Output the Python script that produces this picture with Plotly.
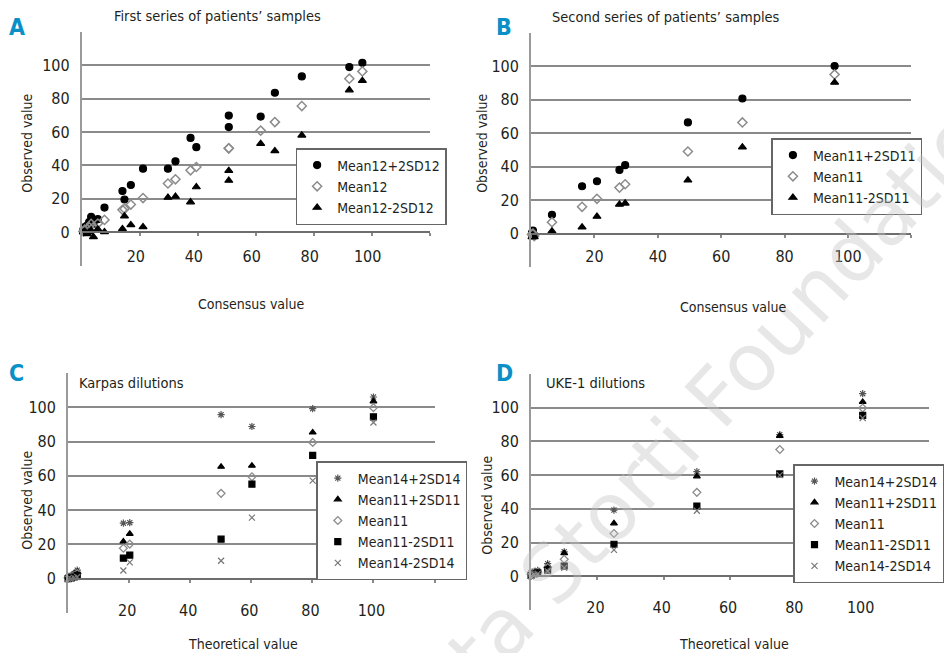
import plotly.graph_objects as go

# ---------------- data ----------------
# Panel A: first series of patients' samples
a_x = [96.8, 92.3, 75.9, 66.6, 61.7, 50.7, 50.7, 39.5, 37.5, 32.3, 29.7, 21.1, 16.9, 14.7, 14.0, 7.8, 5.5, 3.2, 2.5, 1.8, 1.0, 0.5, 4.0]
a_hi = [101.5, 99, 93.4, 83.6, 69.3, 69.9, 63, 51, 56.5, 42.5, 38.1, 38.1, 28.3, 19.6, 24.7, 14.8, 7.8, 9.2, 6, 4, 3, 1.5, 5]
a_mean = [96.4, 92, 75.6, 66, 60.9, 50.3, 50.3, 39.1, 37.1, 31.7, 29.2, 20.5, 16.6, 14, 13.4, 7.4, 5.2, 5, 3, 2, 1.5, 0.5, 3]
a_lo = [90.8, 85.2, 58.1, 48.7, 53.1, 36.9, 31, 27.1, 18.1, 21.4, 20.8, 3.2, 4.4, 9.6, 2, 0.2, 1.8, 1, 0, -1, 0.5, 0, -2.8]

# Panel B: second series of patients' samples
b_x = [95.8, 66.7, 49.5, 29.7, 27.9, 20.8, 16.1, 6.6, 0.6, 0.3, 1.0]
b_hi = [100.2, 80.8, 66.5, 40.9, 38.1, 31.3, 28.3, 11.2, 1.8, 0.5, -1]
b_mean = [95.2, 66.5, 49.1, 29.5, 27.5, 20.8, 16, 6.8, 0, -0.5, -1.5]
b_lo = [90.4, 51.7, 31.9, 18.1, 17.4, 10.2, 3.8, 1.4, -1, -2, -2]

# Panel C: Karpas dilutions
c_x = [0, 1, 2, 3, 18.1, 20.2, 50.1, 60.2, 80.1, 100]
c_hi14 = [1, 2, 3, 5, 32.4, 32.7, 95.7, 88.8, 99.2, 106]
c_hi11 = [1, 1.5, 3, 4, 21.7, 26.2, 65.3, 65.9, 85.3, 103.5]
c_mean11 = [0.5, 1, 2, 3, 17.8, 20.2, 49.8, 59.5, 79.5, 99.8]
c_lo11 = [0, 0.5, 1, 2, 12, 13.8, 23.1, 55.2, 71.9, 94.4]
c_lo14 = [0, 0, 0.5, 1, 4.8, 9.5, 10.5, 35.6, 57.2, 91.1]

# Panel D: UKE-1 dilutions
d_x = [0, 1, 2, 5, 10, 25, 50, 75, 100]
d_hi14 = [2, 3, 3.5, 7.5, 14.5, 39.3, 62.1, 84, 108.3]
d_hi11 = [1.5, 2.5, 3, 6.2, 13.7, 31.4, 59.3, 83.3, 103.4]
d_mean11 = [1, 2, 2.5, 5.2, 10.1, 25.4, 49.8, 75.2, 99.8]
d_lo11 = [0.5, 1.5, 2, 3.6, 6.1, 19, 41.7, 60.7, 95.4]
d_lo14 = [0, 1, 1.5, 3, 5, 15.7, 38.9, 60, 93.9]

y_ticks = [0, 20, 40, 60, 80, 100]
x_ticks = [0, 20, 40, 60, 80, 100, 120]
x_ticktext = ["", "20", "40", "60", "80", "100", ""]

# ---------------- styling ----------------
OFF = 8                    # page body margin
W, H = 952 - 2 * OFF, 661 - 2 * OFF
FONT = "DejaVu Sans Condensed, Liberation Sans Narrow, sans-serif"
TXT = "#231f20"
BLUE = "#0a8fc7"
GRID = "#8a8a8a"

fig = go.Figure()

def px_x(p):
    return (p - OFF) / W

def px_y(p):
    return 1 - (p - OFF) / H

# panel geometry in page pixels: (left, right, top, bottom) of the plot area
panels = {
    "": (83, 436, 32, 265.6),
    "2": (539, 925, 33, 267),
    "3": (69, 441, 373, 613),
    "4": (539, 943, 374, 610),
}
standoffs = {"": 7, "2": 5, "3": 14, "4": 14}
shifts = {"": -4, "2": 0, "3": -2, "4": -2}

layout_axes = {}
for k, (l, r, t, b) in panels.items():
    ydom = [px_y(b), px_y(t)]
    pos0 = ydom[0] + (ydom[1] - ydom[0]) * (20 / 140)
    layout_axes["xaxis" + k] = dict(
        domain=[px_x(l), px_x(r)], range=[0, 120], anchor="free", position=pos0,
        tickvals=x_ticks, ticktext=x_ticktext, showgrid=False, zeroline=False,
        showline=True, linecolor="#6e6e6e", linewidth=2,
        ticks="outside", ticklen=3, tickcolor="#8a8a8a", tickwidth=1.5,
        ticklabelstandoff=standoffs[k], ticklabelshift=shifts[k],
        tickfont=dict(family=FONT, size=16, color=TXT), fixedrange=True,
    )
    layout_axes["yaxis" + k] = dict(
        domain=ydom, range=[-20, 120], anchor="x" + k,
        tickvals=y_ticks, showgrid=True, gridcolor=GRID, gridwidth=1.6,
        zeroline=False, showline=True, linecolor="#9a9a9a", linewidth=2,
        ticks="", ticklabelstandoff=7,
        tickfont=dict(family=FONT, size=16, color=TXT), fixedrange=True,
    )

def add(x, y, name, k, symbol, color, size, legend, lw=1.2):
    fig.add_trace(go.Scatter(
        x=x, y=y, name=name, mode="markers",
        xaxis="x" + k, yaxis="y" + k, legend=legend,
        marker=dict(symbol=symbol, color=color, size=size,
                    line=dict(color=color, width=lw)),
        cliponaxis=False,
    ))

# Panel A
add(a_x, a_hi, "Mean12+2SD12", "", "circle", "#000000", 7, "legend")
add(a_x, a_mean, "Mean12", "", "diamond-open", "#8c8c8c", 7, "legend", 1.5)
add(a_x, a_lo, "Mean12-2SD12", "", "triangle-up", "#000000", 7, "legend")
# Panel B
add(b_x, b_hi, "Mean11+2SD11", "2", "circle", "#000000", 7, "legend2")
add(b_x, b_mean, "Mean11", "2", "diamond-open", "#8c8c8c", 7, "legend2", 1.5)
add(b_x, b_lo, "Mean11-2SD11", "2", "triangle-up", "#000000", 7, "legend2")
# Panel C
add(c_x, c_hi14, "Mean14+2SD14", "3", "asterisk-open", "#555555", 6, "legend3")
add(c_x, c_hi11, "Mean11+2SD11", "3", "triangle-up", "#000000", 6, "legend3")
add(c_x, c_mean11, "Mean11", "3", "diamond-open", "#8c8c8c", 6, "legend3", 1.3)
add(c_x, c_lo11, "Mean11-2SD11", "3", "square", "#000000", 6, "legend3")
add(c_x, c_lo14, "Mean14-2SD14", "3", "x-thin-open", "#777777", 6, "legend3")
# Panel D
add(d_x, d_hi14, "Mean14+2SD14", "4", "asterisk-open", "#555555", 6, "legend4")
add(d_x, d_hi11, "Mean11+2SD11", "4", "triangle-up", "#000000", 6, "legend4")
add(d_x, d_mean11, "Mean11", "4", "diamond-open", "#8c8c8c", 6, "legend4", 1.3)
add(d_x, d_lo11, "Mean11-2SD11", "4", "square", "#000000", 6, "legend4")
add(d_x, d_lo14, "Mean14-2SD14", "4", "x-thin-open", "#777777", 6, "legend4")

def leg(l, t):
    return dict(x=px_x(l), y=px_y(t), xanchor="left", yanchor="top",
                bgcolor="white", bordercolor="#666666", borderwidth=1.5,
                font=dict(family=FONT, size=14, color=TXT), tracegroupgap=0,
                itemclick=False, itemdoubleclick=False)

annotations = []

# watermark
annotations.append(dict(
    x=px_x(675), y=px_y(452), xref="paper", yref="paper",
    text="Ferrata Storti Foundation", showarrow=False, textangle=-47,
    xanchor="center", yanchor="middle",
    font=dict(family="DejaVu Sans, sans-serif", size=80, color="rgba(195,195,195,0.4)"),
))

def txt(x, y, s, size=14, angle=0, xanchor="center", bold=False, color=TXT):
    annotations.append(dict(
        x=px_x(x), y=px_y(y), xref="paper", yref="paper", text=s,
        showarrow=False, xanchor=xanchor, yanchor="middle", textangle=angle,
        font=dict(family=FONT, size=size, color=color,
                  weight="bold" if bold else "normal"),
    ))

# panel letters
txt(17, 27, "A", 23, bold=True, color=BLUE)
txt(512, 27, "B", 23, bold=True, color=BLUE)
txt(17, 373, "C", 23, bold=True, color=BLUE)
txt(512, 373, "D", 23, bold=True, color=BLUE)
# titles
txt(221, 16, "First series of patients’ samples", 14.5)
txt(676, 17, "Second series of patients’ samples", 14.5)
txt(78, 383, "Karpas dilutions", 14.5, xanchor="left")
txt(552, 383, "UKE-1 dilutions", 14.5, xanchor="left")
# axis titles
txt(27, 143, "Observed value", 14, angle=-90)
txt(489, 143, "Observed value", 14, angle=-90)
txt(27, 500, "Observed value", 14, angle=-90)
txt(494, 505, "Observed value", 14, angle=-90)
txt(255, 304, "Consensus value", 14)
txt(745, 307, "Consensus value", 14)
txt(247, 644, "Theoretical value", 14)
txt(745, 644, "Theoretical value", 14)

fig.update_layout(
    width=W, height=H, margin=dict(l=0, r=0, t=0, b=0),
    paper_bgcolor="white", plot_bgcolor="white",
    showlegend=True,
    legend=leg(300, 148), legend2=leg(783, 138),
    legend3=leg(321, 461), legend4=leg(805, 464),
    annotations=annotations,
    font=dict(family=FONT, color=TXT),
    **layout_axes,
)

fig.write_html("out.html")
